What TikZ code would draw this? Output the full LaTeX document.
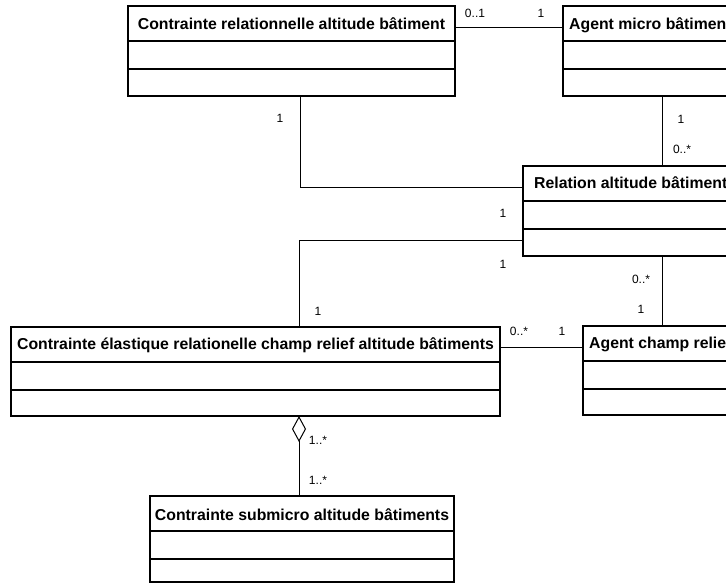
\documentclass[tikz,border=0pt]{standalone}
\usepackage{fontspec}
\setmainfont{Liberation Sans}
\usetikzlibrary{calc,arrows.meta}
\tikzset{
  clsbox/.style={draw=black, line width=1.1pt, inner sep=0pt, outer sep=0pt, fill=white},
  clsline/.style={draw=black, line width=1.1pt},
  conn/.style={draw=black, line width=1pt},
  hdr/.style={inner sep=0pt, font=\fontsize{15.8}{18}\selectfont\bfseries},
  mult/.style={inner sep=0pt, font=\fontsize{12}{14}\selectfont}
}
\newcommand{\umlbox}[5]{%
  \node[clsbox, minimum width=#4, minimum height=#5, anchor=north west] (#1) at (#2,#3) {};
  \draw[clsline] ($(#1.north west)+(0,35)$) -- ($(#1.north east)+(0,35)$);
  \draw[clsline] ($(#1.north west)+(0,63)$) -- ($(#1.north east)+(0,63)$);
}
\begin{document}
\begin{tikzpicture}[x=1pt,y=-1pt]
\useasboundingbox (0,0) rectangle (726,585);
\clip (0,0) rectangle (726,585);
\fill[white] (0,0) rectangle (726,585);

% classes
\umlbox{b1}{128}{6}{327}{90}
\umlbox{b2}{563}{6}{220}{90}
\umlbox{b3}{523}{166}{240}{90}
\umlbox{b4}{11}{327}{489}{89}
\umlbox{b5}{583}{326}{220}{89}
\umlbox{b6}{150}{496}{304}{86}

% header texts
\node[hdr, anchor=base] (t1) at ($(b1.north)+(0,24)$) {Contrainte relationnelle altitude bâtiment};
\node[hdr, anchor=base west] (t2) at ($(b2.north west)+(6,24)$) {Agent micro bâtiment};
\node[hdr, anchor=base west] (t3) at ($(b3.north west)+(11,23)$) {Relation altitude bâtiment};
\node[hdr, anchor=base] (t4) at ($(b4.north)+(0,23)$) {Contrainte élastique relationelle champ relief altitude bâtiments};
\node[hdr, anchor=base west] (t5) at ($(b5.north west)+(6,23)$) {Agent champ relief};
\node[hdr, anchor=base] (t6) at ($(b6.north)+(0,24)$) {Contrainte submicro altitude bâtiments};

% connectors
\draw[conn] ($(b1.north east)+(0,22)$) -- ($(b2.north west)+(0,22)$);
\draw[conn] ($(b2.south west)+(99,0)$) -- ($(b3.north west)+(139,0)$);
\draw[conn] ($(b1.south west)+(172,0)$) |- ($(b3.north west)+(0,22)$);
\draw[conn] ($(b3.north west)+(0,75)$) -| ($(b4.north west)+(288,0)$);
\draw[conn] ($(b3.south west)+(139,0)$) -- ($(b5.north west)+(79,0)$);
\draw[conn] ($(b4.north east)+(0,21)$) -- ($(b5.north west)+(0,22)$);
\draw[conn, -{Diamond[open, length=26pt, width=14pt, line width=1pt]}] ($(b6.north west)+(149,0)$) -- ($(b4.south west)+(288,0)$);

% multiplicities
\node[mult] (m1) at (475,13) {0..1};
\node[mult] (m2) at (541,13) {1};
\node[mult] (m3) at (280,118) {1};
\node[mult] (m4) at (681,119) {1};
\node[mult] (m5) at (682,149) {0..*};
\node[mult] (m6) at (503,213) {1};
\node[mult] (m7) at (503,264) {1};
\node[mult] (m8) at (318,311) {1};
\node[mult] (m9) at (641,279) {0..*};
\node[mult] (m10) at (641,309) {1};
\node[mult] (m11) at (519,331) {0..*};
\node[mult] (m12) at (562,331) {1};
\node[mult] (m13) at (318,440) {1..*};
\node[mult] (m14) at (318,480) {1..*};
\end{tikzpicture}
\end{document}
